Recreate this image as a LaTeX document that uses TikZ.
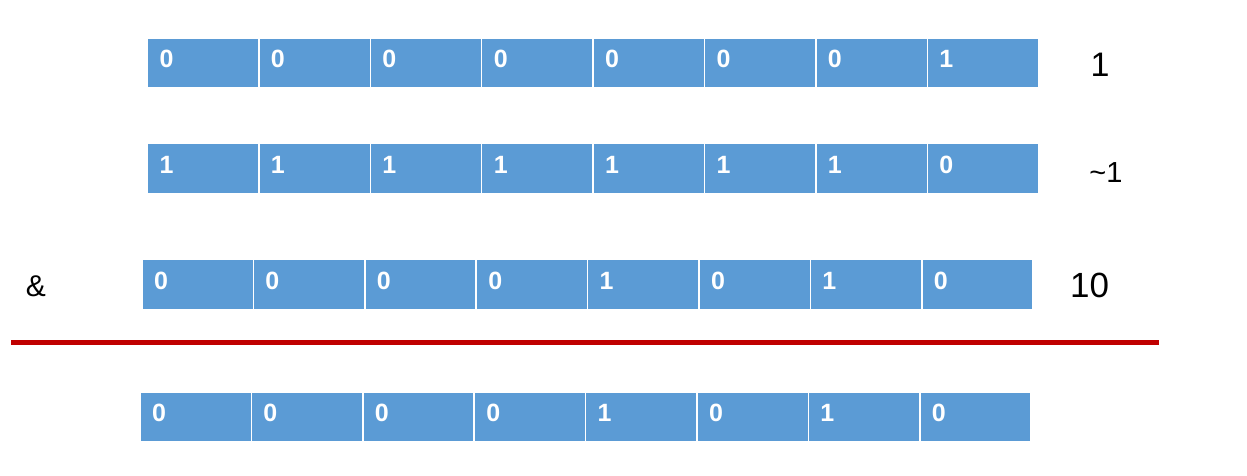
\documentclass[tikz,border=0pt]{standalone}
\usepackage{fontspec}
\setmainfont{Liberation Sans}
\usetikzlibrary{positioning}
\definecolor{cellblue}{HTML}{5B9BD5}
\definecolor{sumred}{HTML}{C00000}

\begin{document}
\begin{tikzpicture}[x=1pt, y=-1pt,
    cell/.style={draw=white, line width=1.5pt, fill=cellblue, minimum width=111.4pt, minimum height=50pt, inner sep=0pt, outer sep=0pt, anchor=north west},
    digit/.style={text=white, font=\fontsize{25}{30}\selectfont\bfseries, inner sep=0pt},
    rowlabel/.style={font=\fontsize{34}{40}\selectfont, inner sep=0pt},
    sumline/.style={draw=sumred, line width=4.5pt}]
    \useasboundingbox (0,0) rectangle (1247,475);

    % Bit rows: row / left edge / top edge / bits
    \foreach \r/\lx/\ty/\bits in {1/147.5/38/{0,0,0,0,0,0,0,1},
                                  2/147.5/143.5/{1,1,1,1,1,1,1,0},
                                  3/142/259.5/{0,0,0,0,1,0,1,0},
                                  4/140/392/{0,0,0,0,1,0,1,0}} {
        \foreach \b [count=\c] in \bits {
            \node[cell] (r\r-\c) at (\lx+111.4*\c-111.4, \ty) {};
            \node[digit] (d\r-\c) at ([xshift=19pt, yshift=4pt]r\r-\c.west) {\b};
        }
    }

    % Values on the right, operator on the left
    \node[rowlabel] (v1) at (1100,64.7) {1};
    \node[rowlabel, font=\fontsize{29}{34}\selectfont] (v2) at (1106,172.5) {\textasciitilde 1};
    \node[rowlabel, font=\fontsize{35}{42}\selectfont] (v3) at (1089.7,285.8) {10};
    \node[rowlabel, font=\fontsize{30}{36}\selectfont] (op) at (36,286) {\&};

    % Result line
    \draw[sumline] (11,342.3) -- (1159,342.3);
\end{tikzpicture}
\end{document}
